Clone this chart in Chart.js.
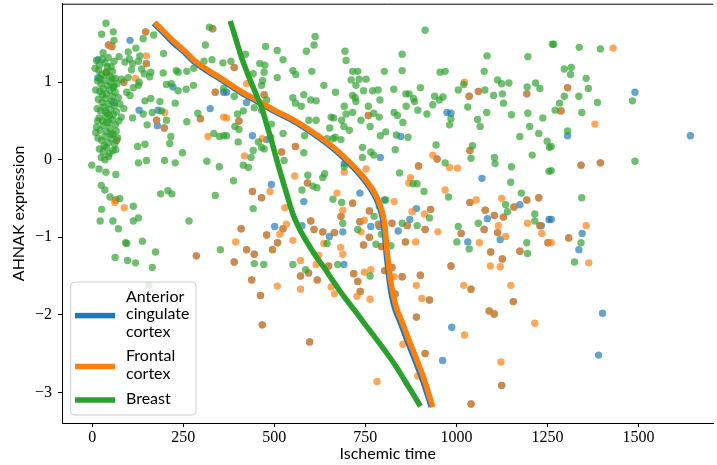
<!DOCTYPE html>
<html><head><meta charset="utf-8">
<script src="https://cdn.jsdelivr.net/npm/chart.js@4.4.1/dist/chart.umd.min.js"></script>
<style>html,body{margin:0;padding:0;background:#fff;}#wrap{width:717px;height:465px;position:relative;}</style>
</head><body><div id="wrap"><canvas id="c" width="717" height="465"></canvas></div>
<script>
const xTicks=[0,250,500,750,1000,1250,1500];
const yTicks=[-3,-2,-1,0,1];
const seriesNames=['Anterior cingulate cortex','Frontal cortex','Breast'];
const legendLines=[['Anterior','cingulate','cortex'],['Frontal','cortex'],['Breast']];
const xTitle='Ischemic time';
const yTitle='AHNAK expression';

// Anterior cingulate cortex samples (blue only)
const accOnly=[[104,1.54],[16,1.29],[222,0.94],[129,0.64],[181,0.64],[179,0.44],[324,0.66],[361,0.87],[16,1.06],[60,0.74],
[369,0.87],[424,0.74],[440,0.31],[479,0.26],[692,-0.05],[791,0.03],[492,-0.32],[581,-0.54],[735,-0.43],[802,-0.52],
[974,0.61],[985,0.60],[847,0.30],[1070,-0.24],[890,-0.63],[1174,-0.58],[1490,0.87],[1305,0.31],[1642,0.31],
[501,-0.86],[576,-0.85],[651,-0.99],[688,-0.93],[691,-1.35],[765,-0.86],[788,-0.86],
[840,-0.92],[872,-0.77],[1031,-1.06],[1085,-0.76],[1120,-1.03],[1233,-0.85],[1254,-0.77],[987,-2.16],[962,-2.59],
[1260,-0.77],[1345,-0.95],[1336,-1.16],[1401,-1.98],[1390,-2.52]];
// Frontal cortex samples (orange only)
const frontalOnly=[[149,1.34],[119,1.05],[199,0.61],[318,0.30],[361,0.55],[88,-0.62],[62,-0.55],
[369,0.54],[424,0.98],[418,0.05],[467,0.27],[556,-0.21],[488,-0.41],[672,-0.43],[692,-0.16],[752,-0.12],[529,-0.62],[688,-0.65],
[1022,1.00],[935,0.06],[981,-0.10],[1003,-0.11],[874,-0.23],[869,-0.30],[969,-0.39],[1054,-0.52],[1124,-0.50],[829,-0.54],[878,-0.67],[912,-0.70],
[1430,1.44],[1380,0.46],
[394,-1.06],[515,-0.96],[533,-0.83],[551,-1.04],[572,-1.30],[622,-1.23],[615,-1.35],[572,-1.67],[508,-1.63],[636,-1.08],[682,-1.13],[688,-1.22],[665,-1.73],[656,-1.64],[727,-1.76],[747,-1.45],[765,-1.42],[763,-1.80],[738,-0.93],[747,-0.78],[782,-2.86],
[949,-0.93],[888,-1.06],[1063,-1.07],[1115,-0.85],[1135,-0.99],[1093,-1.37],[1120,-1.38],[829,-1.51],[890,-1.62],[905,-1.79],[1020,-1.62],[1149,-1.62],[1215,-2.11],[1022,-2.26],[853,-2.38],[1122,-2.61],[894,-2.79],[1195,-0.82],[1234,-0.95],
[1356,-0.85],[1363,-1.33],[1260,-1.07]];
// samples where both brain regions overlap
const accAndFrontal=[[147,1.65],[45,1.48],[54,1.46],[149,1.24],[87,1.00],[177,0.51],[198,0.41],[297,0.53],[338,0.87],[65,-0.52],[331,1.69],[39,1.13],[67,0.25],
[390,1.19],[472,0.84],[403,0.50],[558,0.17],[520,0.10],[758,0.57],[591,-0.30],[440,-0.41],[465,-0.49],[715,-0.56],[761,-0.66],
[1060,0.88],[1035,0.82],[1193,0.85],[947,0.01],[896,-0.08],[1037,0.12],[1037,-0.55],[1079,-0.65],[1158,-0.61],[1193,-0.52],[1226,-0.49],[929,-0.64],
[1305,0.93],[1287,0.63],[1342,-0.07],[1395,-0.04],[286,-1.24],
[409,-0.89],[479,-0.97],[509,-1.07],[495,-1.16],[445,-1.22],[424,-1.16],[390,-1.32],[438,-1.55],[462,-1.75],[467,-2.13],[597,-2.35],[524,-0.89],[609,-0.90],[600,-0.79],[633,-0.93],[665,-0.94],[683,-0.73],[735,-0.80],[745,-1.10],[761,-1.00],[786,-0.83],[794,-1.12],[572,-1.50],[594,-1.46],[618,-1.55],[649,-1.37],[718,-1.47],[729,-1.57],[736,-1.70],[803,-1.43],
[823,-0.82],[865,-0.85],[914,-0.90],[1013,-0.95],[860,-1.06],[1076,-0.90],[1094,-1.19],[1126,-1.28],[1174,-1.18],[1251,-1.07],[985,-1.37],[901,-1.49],[851,-1.51],[832,-1.73],[1040,-1.67],[926,-1.81],[1090,-1.95],[1104,-1.99],[1156,-1.83],[890,-2.03],[914,-2.50],[1124,-2.91],[1040,-3.15],[1229,-0.85],[823,-1.39],[1113,-0.94],[1104,-0.72],[1129,-0.74],[1308,-1.01]];
// Breast samples
const breast=[[38,1.76],[26,1.62],[58,1.65],[60,1.54],[140,1.56],[120,1.44],[99,1.39],[169,1.61],[196,1.37],[74,1.33],[102,1.30],[131,1.34],[127,1.27],[111,1.24],[90,1.26],[108,1.16],[136,1.17],[143,1.11],[161,1.13],[158,1.07],[129,1.00],[127,0.96],[99,1.06],[81,1.04],[95,0.87],[104,0.83],[113,0.93],[195,1.12],[231,1.15],[236,1.13],[260,1.14],[279,1.18],[307,1.27],[329,1.29],[359,1.25],[322,1.71],[311,1.48],[204,0.97],[217,0.98],[236,0.89],[258,0.91],[278,0.96],[361,0.92],[145,0.76],[161,0.79],[186,0.75],[228,0.73],[165,0.61],[140,0.59],[190,0.63],[204,0.51],[151,0.45],[87,0.66],[111,0.54],[216,0.30],[213,0.21],[248,0.09],[260,0.49],[290,0.60],[315,-0.02],[349,-0.09],[334,0.34],[349,0.30],[361,0.31],[125,0.17],[145,0.20],[-1,-0.07],[19,-0.12],[38,-0.16],[65,-0.19],[127,-0.04],[149,-0.01],[199,-0.01],[228,-0.04],[25,-0.33],[35,-0.39],[49,-0.48],[26,-0.64],[76,-0.50],[113,-0.60],[188,-0.44],[208,-0.40],[219,-0.44],[338,-0.46],
[612,1.59],[609,1.48],[588,1.40],[508,1.41],[476,1.46],[524,1.29],[421,1.36],[460,1.24],[474,1.22],[381,1.27],[442,1.11],[472,1.13],[468,1.02],[465,0.96],[508,1.06],[551,1.15],[559,1.10],[603,1.14],[694,1.40],[697,1.28],[715,1.14],[729,1.14],[733,1.04],[752,1.04],[711,1.03],[724,0.96],[715,0.83],[722,0.80],[724,0.75],[745,0.89],[770,0.89],[785,0.90],[790,0.77],[802,1.14],[636,0.96],[668,0.87],[581,0.84],[551,0.80],[558,0.73],[574,0.69],[600,0.77],[615,0.76],[479,0.77],[465,0.64],[445,0.67],[415,0.63],[399,0.59],[390,0.82],[392,0.43],[403,0.39],[369,0.31],[401,0.23],[595,0.51],[615,0.51],[656,0.55],[663,0.54],[685,0.51],[692,0.69],[697,0.59],[715,0.61],[738,0.51],[758,0.69],[773,0.60],[788,0.55],[763,0.43],[691,0.43],[706,0.38],[652,0.41],[645,0.27],[661,0.27],[667,0.29],[683,0.26],[791,0.31],[806,0.36],[583,0.31],[524,0.34],[492,0.46],[490,0.29],[456,0.23],[465,0.16],[472,0.14],[442,0.12],[436,0.03],[415,-0.07],[429,-0.10],[388,-0.27],[527,-0.01],[581,0.09],[592,-0.20],[606,-0.34],[638,-0.18],[633,-0.23],[576,-0.39],[617,-0.36],[661,-0.51],[685,-0.55],[692,-0.09],[742,0.16],[765,0.10],[773,0.06],[742,0.03],[788,-0.60],[806,-0.52],[442,-0.63],
[914,1.67],[851,1.36],[851,1.15],[1084,1.34],[1196,1.33],[955,1.13],[969,1.14],[1076,1.14],[828,0.91],[901,0.93],[861,0.85],[870,0.85],[882,0.79],[885,0.75],[862,0.69],[894,0.64],[829,0.61],[838,0.57],[853,0.48],[919,0.59],[940,0.82],[953,0.77],[963,0.81],[935,0.71],[1005,0.90],[1020,0.97],[1031,0.68],[1058,0.52],[1065,0.43],[1083,0.61],[1078,0.90],[1113,1.03],[1124,0.98],[1144,0.99],[1102,0.83],[1126,0.85],[1129,0.73],[1151,0.58],[1194,0.94],[1217,0.99],[1229,0.92],[1196,0.60],[1201,0.43],[1237,0.54],[1226,0.34],[1174,0.30],[1249,0.24],[1255,0.16],[1208,0.06],[1263,1.49],[985,0.53],[981,0.45],[835,0.32],[867,0.29],[832,0.13],[944,0.19],[1044,0.18],[1040,0.02],[1104,0.03],[1106,-0.05],[1151,-0.09],[1149,-0.29],[969,-0.04],[844,-0.17],[881,-0.31],[892,-0.31],[911,-0.41],[978,-0.48],[1178,-0.43],[1135,-0.58],[1140,-0.67],[1215,-0.70],[1254,-0.15],
[1267,1.49],[1337,1.45],[1395,1.43],[1296,1.17],[1315,1.19],[1313,1.10],[1356,1.05],[1362,0.92],[1296,0.82],[1336,0.82],[1387,0.74],[1483,0.76],[1283,0.73],[1271,0.64],[1344,0.61],[1305,0.37],[1260,0.17],[1490,-0.02],[1260,-0.14],[1344,-0.49],
[22,-0.79],[57,-0.79],[72,-0.89],[113,-0.79],[127,-0.75],[266,-0.79],[92,-1.07],[95,-1.08],[138,-1.05],[174,-1.19],[63,-1.26],[97,-1.30],[119,-1.33],[165,-1.39],[352,-1.16],[156,-1.62],
[445,-1.34],[471,-1.35],[551,-1.35],[586,-1.42],[674,-1.35],[688,-0.82],[774,-0.73],[729,-0.90],[763,-1.50],[779,-1.09],[794,-0.96],[645,-1.08],
[851,-0.82],[892,-0.85],[926,-0.75],[1005,-0.86],[1001,-1.06],[1035,-1.15],[1060,-0.82],[1215,-0.79],[1193,-1.07],[1195,-1.21],[820,-1.11],[1342,-1.07],[1324,-1.32]];
// dense group of short-ischemic-time breast samples
const breastCluster=[[12,1.28],[20,1.22],[28,1.30],[35,1.25],[44,1.32],[52,1.20],[60,1.27],[18,1.15],[26,1.10],[38,1.12],[47,1.08],[56,1.14],[64,1.05],[15,1.02],[24,0.98],[33,1.03],[42,0.96],[50,1.00],[58,0.93],[68,0.98],[10,0.90],[21,0.88],[30,0.92],[39,0.85],[48,0.90],[55,0.82],[63,0.87],[72,0.80],[17,0.78],[27,0.74],[36,0.79],[45,0.72],[53,0.76],[61,0.70],[14,0.66],[23,0.63],[32,0.68],[41,0.60],[50,0.65],[58,0.58],[67,0.62],[19,0.54],[29,0.50],[37,0.56],[46,0.48],[55,0.52],[64,0.45],[73,0.50],[12,0.42],[22,0.38],[31,0.44],[40,0.36],[49,0.40],[57,0.33],[66,0.37],[16,0.28],[26,0.25],[35,0.30],[44,0.22],[53,0.27],[62,0.20],[20,0.14],[30,0.10],[39,0.16],[48,0.08],[57,0.12],[25,0.03],[35,0.0],[45,0.04],[8,1.18],[30,1.38],[42,1.20],[36,0.63],[28,0.84],[48,0.57],[60,0.95],[76,0.72],[80,0.55],[70,0.28],[15,0.50],[22,1.05],[55,1.05],[40,0.48],[33,0.18],[52,0.33],[65,0.13],[10,0.35]];
// fitted trend curves
const accLine=[[169,1.76],[197,1.63],[224,1.50],[252,1.39],[278,1.27],[317,1.14],[358,1.02],[407,0.87],[453,0.75],[497,0.63],[544,0.52],[589,0.39],[635,0.24],[672,0.10],[708,-0.06],[732,-0.18],[753,-0.30],[769,-0.41],[782,-0.53],[792,-0.66],[799,-0.81],[803,-0.98],[806,-1.15],[810,-1.34],[815,-1.54],[822,-1.76],[832,-1.94],[845,-2.09],[861,-2.29],[877,-2.48],[893,-2.67],[908,-2.86],[920,-3.03],[931,-3.19]];
const frontalLine=[[172,1.77],[200,1.64],[227,1.515],[255,1.40],[281,1.28],[320,1.15],[361,1.03],[410,0.88],[456,0.76],[500,0.64],[547,0.53],[592,0.40],[638,0.25],[675,0.11],[711,-0.05],[735,-0.17],[756,-0.29],[772,-0.40],[785,-0.52],[795,-0.65],[802,-0.80],[806,-0.97],[809,-1.14],[813,-1.32],[818,-1.52],[826,-1.73],[836,-1.92],[849,-2.07],[865,-2.27],[881,-2.46],[897,-2.65],[912,-2.84],[924,-3.02],[935,-3.19]];
const breastLine=[[379,1.79],[395,1.55],[410,1.32],[426,1.12],[442,0.935],[454,0.80],[465,0.68],[478,0.47],[492,0.25],[506,0.01],[520,-0.22],[536,-0.47],[551,-0.70],[570,-0.90],[592,-1.08],[615,-1.25],[638,-1.40],[665,-1.59],[692,-1.77],[720,-1.94],[747,-2.11],[778,-2.30],[808,-2.49],[836,-2.68],[862,-2.88],[882,-3.03],[901,-3.18]];

const colors=['#1f77b4','#ff7f0e','#2ca02c'];
const alphaColors=['rgba(31,119,180,0.68)','rgba(255,127,14,0.68)','rgba(44,160,44,0.68)'];
const toXY=a=>a.map(p=>({x:p[0],y:p[1]}));
const pointStyle={pointRadius:3.7,pointHoverRadius:3.7,borderWidth:0,showLine:false};
const lineStyle={showLine:true,pointRadius:0,borderWidth:5.5,tension:0.35,fill:false};

const framePlugin={id:'frame',afterDraw(chart){
  const ctx=chart.ctx,a=chart.chartArea;
  ctx.save();ctx.strokeStyle='#000';ctx.lineWidth=1;
  ctx.beginPath();ctx.moveTo(a.left,a.top+0.5);ctx.lineTo(a.right,a.top+0.5);ctx.stroke();
  ctx.restore();
}};
const legendPlugin={id:'customLegend',afterDraw(chart){
  const ctx=chart.ctx;
  const bx=70.7,by=282,bw=125.3,bh=133,r=3.5;
  ctx.save();
  ctx.beginPath();
  ctx.moveTo(bx+r,by);ctx.lineTo(bx+bw-r,by);ctx.quadraticCurveTo(bx+bw,by,bx+bw,by+r);
  ctx.lineTo(bx+bw,by+bh-r);ctx.quadraticCurveTo(bx+bw,by+bh,bx+bw-r,by+bh);
  ctx.lineTo(bx+r,by+bh);ctx.quadraticCurveTo(bx,by+bh,bx,by+bh-r);
  ctx.lineTo(bx,by+r);ctx.quadraticCurveTo(bx,by,bx+r,by);ctx.closePath();
  ctx.fillStyle='rgba(255,255,255,0.8)';ctx.fill();
  ctx.strokeStyle='#cccccc';ctx.lineWidth=1;ctx.stroke();
  ctx.font='16px Lato';ctx.fillStyle='#000';ctx.textBaseline='middle';ctx.textAlign='left';
  let y=by+14.7;
  legendLines.forEach((lines,i)=>{
    const ys=[];
    lines.forEach(t=>{ctx.fillText(t,126,y);ys.push(y);y+=17.4;});
    y+=7.4;
    const hy=ys.reduce((s,v)=>s+v,0)/ys.length+1.5;
    ctx.fillStyle=colors[i];ctx.fillRect(75,hy-2.75,40,5.5);ctx.fillStyle='#000';
  });
  ctx.restore();
}};
const fmt=v=>v<0?'\u2212'+Math.abs(v):String(v);
new Chart(document.getElementById('c'),{
  type:'scatter',
  data:{datasets:[
    Object.assign({label:seriesNames[0],data:toXY(accOnly.concat(accAndFrontal)),backgroundColor:alphaColors[0],order:7},pointStyle),
    Object.assign({label:seriesNames[1],data:toXY(frontalOnly.concat(accAndFrontal)),backgroundColor:alphaColors[1],order:6},pointStyle),
    Object.assign({label:seriesNames[2],data:toXY(breast.concat(breastCluster)),backgroundColor:alphaColors[2],order:5},pointStyle),
    Object.assign({label:seriesNames[0]+' trend',data:toXY(accLine),borderColor:colors[0],order:3},lineStyle),
    Object.assign({label:seriesNames[1]+' trend',data:toXY(frontalLine),borderColor:colors[1],order:2},lineStyle),
    Object.assign({label:seriesNames[2]+' trend',data:toXY(breastLine),borderColor:colors[2],order:1},lineStyle)
  ]},
  options:{
    responsive:false,animation:false,devicePixelRatio:1,
    layout:{padding:{top:3,left:0,right:0,bottom:0}},
    plugins:{legend:{display:false},tooltip:{enabled:false}},
    scales:{
      x:{type:'linear',min:-82.7,max:1705,
        afterBuildTicks:s=>{s.ticks=xTicks.map(v=>({value:v}));},
        afterFit:s=>{s.height=42;s.paddingLeft=0;s.paddingRight=0;},
        ticks:{font:{family:'Liberation Serif',size:16},color:'#000',padding:1.5,maxRotation:0,autoSkip:false,callback:fmt},
        grid:{drawOnChartArea:false,tickLength:4,color:'#000',lineWidth:1},
        border:{color:'#000',width:1},
        title:{display:true,text:xTitle,font:{family:'Lato',size:16},color:'#000',padding:{top:0,bottom:2}}},
      y:{type:'linear',min:-3.396,max:2.013,
        afterBuildTicks:s=>{s.ticks=yTicks.map(v=>({value:v}));},
        afterFit:s=>{s.width=62;s.paddingTop=0;s.paddingBottom=0;},
        ticks:{font:{family:'Liberation Serif',size:16},color:'#000',padding:6,autoSkip:false,callback:fmt},
        grid:{drawOnChartArea:false,tickLength:4,color:'#000',lineWidth:1},
        border:{color:'#000',width:1},
        title:{display:true,text:yTitle,font:{family:'Lato',size:16},color:'#000',padding:{top:9,bottom:0}}}
    }
  },
  plugins:[framePlugin,legendPlugin]
});
</script></body></html>
